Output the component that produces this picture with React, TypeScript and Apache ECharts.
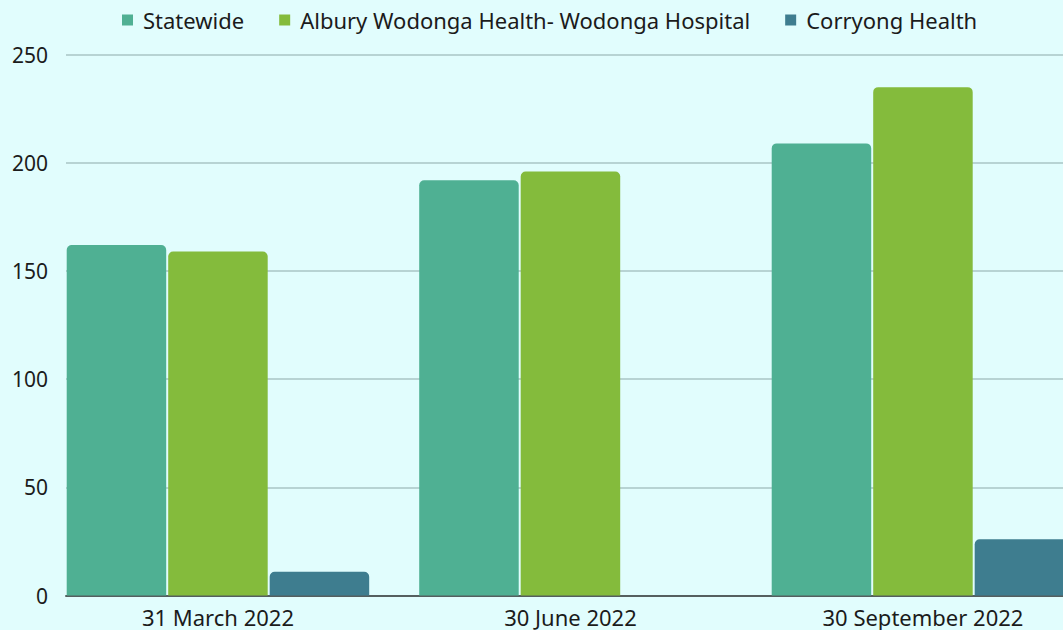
import React, { useEffect, useRef } from "react";
import * as echarts from "echarts";

const categories = ["31 March 2022", "30 June 2022", "30 September 2022"];
const statewide = [162, 192, 209];
const albury = [159, 196, 235];
const corryong = [11, 0, 26];
const seriesNames = ["Statewide", "Albury Wodonga Health- Wodonga Hospital", "Corryong Health"];
const colors = ["#4fb093", "#84bb3c", "#3e7d8f"];

const FONT = "'Noto Sans', sans-serif";
const TEXT = "#1b1b1b";

export default function App() {
  const ref = useRef<HTMLDivElement>(null);
  useEffect(() => {
    if (!ref.current) return;
    const chart = echarts.init(ref.current, undefined, { renderer: "svg" });
    const barBase = {
      type: "bar",
      xAxisIndex: 1,
      yAxisIndex: 1,
      barWidth: 99.5,
      barGap: "2%",
      itemStyle: { borderRadius: [5, 5, 0, 0] },
      z: 3,
    };
    chart.setOption({
      animation: false,
      backgroundColor: "#e1fdfd",
      textStyle: { fontFamily: FONT },
      legend: {
        left: 122,
        top: 9,
        padding: 0,
        itemWidth: 11,
        itemHeight: 11,
        itemGap: 35,
        icon: "rect",
        textStyle: { fontFamily: FONT, fontSize: 22, color: TEXT, padding: [0, 0, 0, 5] },
        data: seriesNames,
      },
      grid: [
        { left: 66, right: 0, top: 54.7, bottom: 34.5, outerBoundsMode: "none", containLabel: false },
        { left: 41.7, width: 1057.5, top: 54.7, bottom: 34.5, outerBoundsMode: "none", containLabel: false },
      ],
      xAxis: [
        {
          type: "value",
          gridIndex: 0,
          min: 0,
          max: 1,
          axisLine: { show: true, onZero: false, lineStyle: { color: "#555f5f", width: 2 } },
          axisTick: { show: false },
          axisLabel: { show: false },
          splitLine: { show: false },
        },
        {
          type: "category",
          gridIndex: 1,
          data: categories,
          axisLine: { show: false },
          axisTick: { show: false },
          axisLabel: { fontFamily: FONT, fontSize: 22, color: TEXT, margin: 10 },
        },
      ],
      yAxis: [
        {
          type: "value",
          gridIndex: 0,
          min: 0,
          max: 250,
          interval: 50,
          axisLine: { show: false },
          axisTick: { show: false },
          axisLabel: { fontFamily: FONT, fontSize: 21, color: TEXT, margin: 18 },
          splitLine: { lineStyle: { color: "#a9c4c5", width: 1.5 } },
        },
        {
          type: "value",
          gridIndex: 1,
          min: 0,
          max: 250,
          interval: 50,
          axisLine: { show: false },
          axisTick: { show: false },
          axisLabel: { show: false },
          splitLine: { show: false },
        },
      ],
      series: [
        { ...barBase, name: seriesNames[0], data: statewide, itemStyle: { ...barBase.itemStyle, color: colors[0] } },
        { ...barBase, name: seriesNames[1], data: albury, itemStyle: { ...barBase.itemStyle, color: colors[1] } },
        { ...barBase, name: seriesNames[2], data: corryong, itemStyle: { ...barBase.itemStyle, color: colors[2] } },
      ],
    });
    return () => chart.dispose();
  }, []);
  return (
    <div
      ref={ref}
      style={{ position: "fixed", left: 0, top: 0, width: 1063, height: 630 }}
    />
  );
}
